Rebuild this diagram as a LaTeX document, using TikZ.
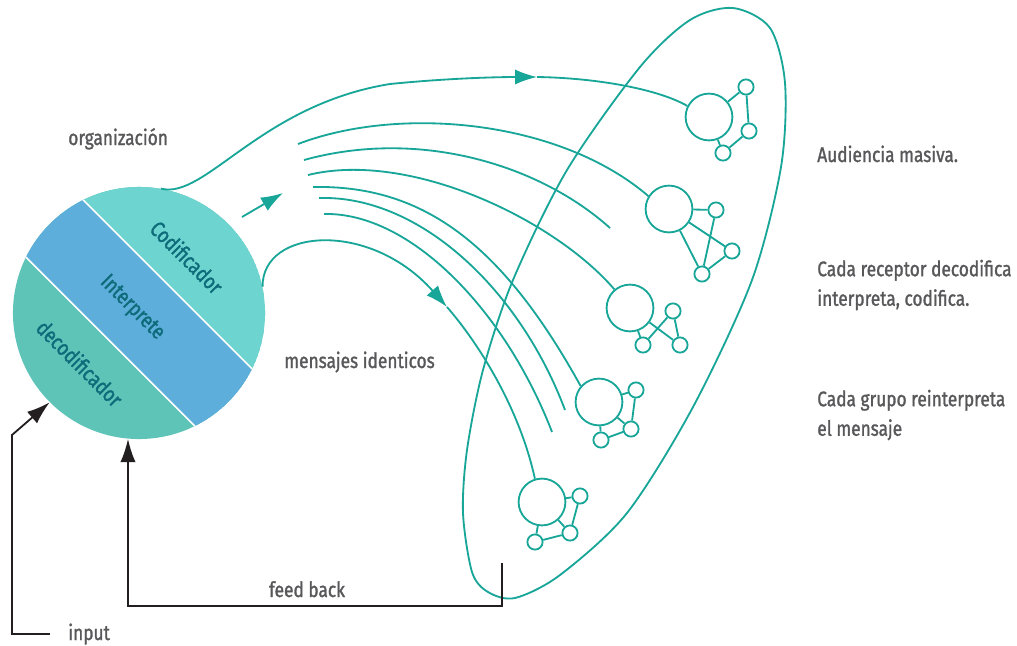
\documentclass[tikz,border=0pt]{standalone}
\usepackage{fontspec}
\setmainfont{Fira Sans}[FakeStretch=0.82,FakeBold=1.3]
\usetikzlibrary{arrows.meta}
\definecolor{lineteal}{RGB}{24,166,152}
\definecolor{bandtop}{RGB}{109,212,207}
\definecolor{bandmid}{RGB}{93,174,219}
\definecolor{bandlow}{RGB}{95,196,184}
\definecolor{bandtext}{RGB}{14,108,122}
\definecolor{labelgray}{RGB}{88,88,90}
\definecolor{arrowblack}{RGB}{35,31,32}
\tikzset{
	flow/.style={lineteal,line width=1.3pt},
	fback/.style={arrowblack,line width=1.3pt},
	recbig/.style={circle,draw=lineteal,line width=1.3pt,minimum size=1.17cm,inner sep=0pt},
	recsmall/.style={circle,draw=lineteal,line width=1.3pt,minimum size=0.38cm,inner sep=0pt},
	lbl/.style={text=labelgray,font=\fontsize{15}{21}\selectfont,inner sep=0pt},
	bandlbl/.style={text=bandtext,font=\fontsize{15.5}{18}\selectfont,rotate=-45,inner sep=0pt}
}
\begin{document}
\begin{tikzpicture}[x=0.025cm,y=-0.025cm]
	\useasboundingbox (0,0) rectangle (1017,645);
	
	% the organization: three bands in a circle
	\begin{scope}
	\clip (139,313) circle [radius=3.15cm];
	\fill[bandlow] (139,313) circle [radius=3.15cm];
	\fill[bandmid] (-32.4,84.4) -- (367.6,484.4) -- (310.4,541.6) -- (-89.6,141.6) -- cycle;
	\fill[bandtop] (-32.4,84.4) -- (367.6,484.4) -- (567.6,284.4) -- (167.6,-115.6) -- cycle;
	\draw[white,line width=1.2pt] (-32.4,84.4) -- (367.6,484.4);
	\draw[white,line width=1.2pt] (-89.6,141.6) -- (310.4,541.6);
	\end{scope}
	\node[circle,minimum size=6.3cm,inner sep=0pt] (org) at (139,313) {};
	\node[bandlbl] (cod) at (187,257) {Codificador};
	\node[bandlbl] (intp) at (132,308) {Interprete};
	\node[bandlbl] (dec) at (80,363) {decodificador};
	
	% the audience
	\draw[flow] plot[smooth cycle] coordinates {(733,8) (770,28) (785,83) (781,167) (752,280) (693,407) (627,513) (560,575) (515,598) (488,592) (472,572) (463,513) (467,450) (483,370) (513,280) (567,170) (640,67) (690,20)};
	
	% receivers
	\node[recbig] (r1) at (709,117) {};
	\node[recsmall] (r1a) at (746,87) {};
	\node[recsmall] (r1b) at (749,131) {};
	\node[recsmall] (r1c) at (723,153) {};
	\draw[flow] (r1) -- (r1a) -- (r1b) -- (r1c) -- (r1);
	
	\node[recbig] (r2) at (669,209) {};
	\node[recsmall] (r2a) at (716,210) {};
	\node[recsmall] (r2b) at (732,251) {};
	\node[recsmall] (r2c) at (702,274) {};
	\draw[flow] (r2) -- (r2a) -- (r2c) -- (r2b) -- (r2);
	\draw[flow] (r2) -- (r2c);
	
	\node[recbig] (r3) at (630,308) {};
	\node[recsmall] (r3a) at (673,311) {};
	\node[recsmall] (r3b) at (643,345) {};
	\node[recsmall] (r3c) at (680,345) {};
	\draw[flow] (r3) -- (r3b) -- (r3a) -- (r3c) -- (r3);
	
	\node[recbig] (r4) at (599,402) {};
	\node[recsmall] (r4a) at (636,390) {};
	\node[recsmall] (r4b) at (631,429) {};
	\node[recsmall] (r4c) at (601,440) {};
	\draw[flow] (r4) -- (r4a) -- (r4b) -- (r4c) -- (r4);
	\draw[flow] (r4) -- (r4b);
	
	\node[recbig] (r5) at (542,502) {};
	\node[recsmall] (r5a) at (580,496) {};
	\node[recsmall] (r5b) at (570,533) {};
	\node[recsmall] (r5c) at (535,542) {};
	\draw[flow] (r5) -- (r5a) -- (r5b) -- (r5c) -- (r5);
	\draw[flow] (r5) -- (r5b);
	
	% messages
	\coordinate (m1) at (537,77);
	\draw[flow,-{Latex[length=0.55cm,width=0.38cm]}] (org.80) .. controls (205,200) and (260,105) .. (390,84) .. controls (450,78) and (500,77) .. (m1);
	\draw[flow] (m1) .. controls (600,78) and (660,90) .. (r1.153);
	
	\coordinate (m2) at (447,307);
	\draw[flow,-{Latex[length=0.55cm,width=0.38cm]}] (org.12) .. controls (262,228) and (370,220) .. (m2);
	\draw[flow] (m2) .. controls (480,345) and (520,410) .. (r5.107);
	
	\coordinate (a0) at (242,217);
	\coordinate (a1) at (283,193);
	\draw[flow,-{Latex[length=0.55cm,width=0.38cm]}] (a0) -- (a1);
	
	\coordinate (s1) at (298,144);
	\coordinate (s2) at (304,160);
	\coordinate (s3) at (308,175);
	\coordinate (s4) at (313,187);
	\coordinate (s5) at (319,198);
	\coordinate (s6) at (324,214);
	\coordinate (e2) at (610,228);
	\coordinate (e5) at (565,410);
	\coordinate (e6) at (552,432);
	\draw[flow] (s1) .. controls (400,105) and (560,120) .. (r2.148);
	\draw[flow] (s2) .. controls (420,128) and (540,165) .. (e2);
	\draw[flow] (s3) .. controls (410,150) and (555,220) .. (r3.130);
	\draw[flow] (s4) .. controls (420,185) and (500,240) .. (r4.139);
	\draw[flow] (s5) .. controls (420,195) and (520,290) .. (e5);
	\draw[flow] (s6) .. controls (410,212) and (505,310) .. (e6);
	
	% input and feed back
	\node[lbl,anchor=base west] (inlbl) at (68,640) {input};
	\draw[fback,-{Latex[length=0.58cm,width=0.38cm]}] ([xshift=-0.45cm]inlbl.west) -| (12,435) -- (org.225);
	\coordinate (fb0) at (502,563);
	\node[lbl,anchor=base] (fblbl) at (307,597) {feed back};
	\draw[fback,-{Latex[length=0.58cm,width=0.38cm]}] (fb0) -- (502,606) -| (org.265);
	
	% labels
	\node[lbl,anchor=base west] (orglbl) at (68,145) {organización};
	\node[lbl,anchor=base west] (msglbl) at (284,368) {mensajes identicos};
	\node[lbl,anchor=base west] (aud) at (817,162) {Audiencia masiva.};
	\node[lbl,anchor=west,align=left] (rec) at (817,285) {Cada receptor decodifica\\interpreta, codifica.};
	\node[lbl,anchor=west,align=left] (grp) at (817,415) {Cada grupo reinterpreta\\el mensaje};
\end{tikzpicture}
\end{document}
